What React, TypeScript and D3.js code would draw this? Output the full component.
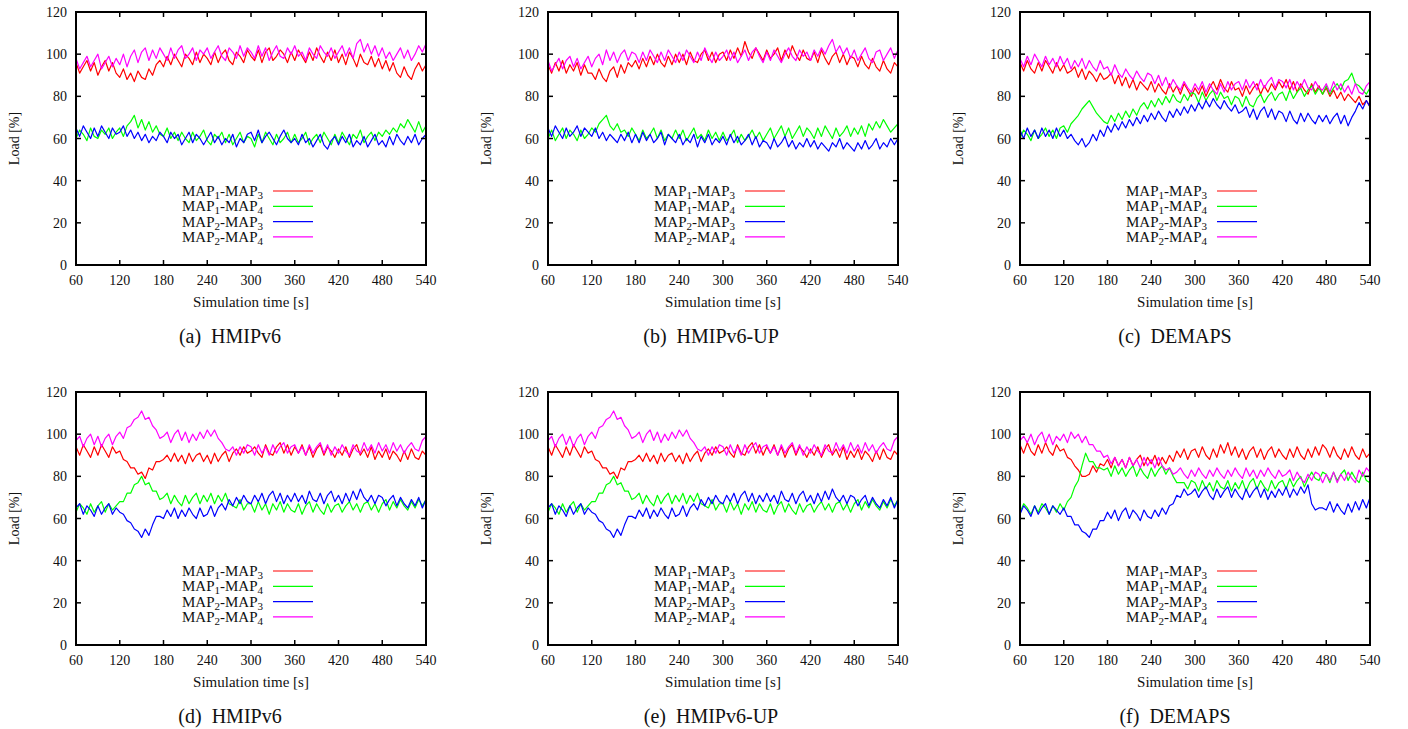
import React from 'react';
import * as d3 from 'd3';

const xTicks = [60, 120, 180, 240, 300, 360, 420, 480, 540];
const yTicks = [0, 20, 40, 60, 80, 100, 120];
const times = d3.range(60, 541, 5);
const seriesColors = ['#ff0000', '#00ff00', '#0000ff', '#ff00ff'];
const legendLabels = [
  ['MAP', '1', '-MAP', '3'],
  ['MAP', '1', '-MAP', '4'],
  ['MAP', '2', '-MAP', '3'],
  ['MAP', '2', '-MAP', '4'],
];
const captions = ['(a)\u2002HMIPv6', '(b)\u2002HMIPv6-UP', '(c)\u2002DEMAPS', '(d)\u2002HMIPv6', '(e)\u2002HMIPv6-UP', '(f)\u2002DEMAPS'];

// Panel (a)
const aRed = [96, 91, 94, 97, 92, 96, 90, 94, 97, 92, 96, 91,
  89, 93, 88, 91, 87, 92, 89, 88, 93, 90, 95, 97,
  94, 99, 95, 100, 97, 94, 100, 98, 95, 101, 96, 100,
  98, 95, 101, 96, 100, 102, 97, 95, 101, 99, 96, 102,
  99, 97, 102, 96, 101, 103, 97, 99, 102, 100, 96, 101,
  97, 102, 99, 96, 101, 97, 103, 99, 96, 101, 97, 102,
  96, 100, 95, 101, 98, 94, 100, 96, 95, 99, 94, 98,
  93, 97, 92, 96, 91, 89, 94, 90, 88, 93, 96, 92,
  95];
const aMag = [98, 93, 96, 99, 94, 97, 100, 93, 96, 99, 94, 98,
  95, 100, 94, 99, 102, 96, 101, 103, 97, 102, 98, 103,
  100, 97, 103, 98, 102, 104, 98, 100, 103, 97, 102, 100,
  103, 98, 101, 104, 99, 97, 103, 101, 98, 104, 99, 103,
  101, 98, 104, 99, 103, 97, 101, 104, 99, 98, 103, 100,
  104, 99, 101, 97, 103, 100, 98, 104, 101, 99, 103, 98,
  101, 104, 99, 103, 98, 105, 107, 101, 105, 100, 104, 99,
  103, 98, 101, 97, 100, 103, 98, 102, 97, 100, 104, 101,
  105];
const aGrn = [60, 64, 62, 59, 65, 61, 60, 64, 62, 65, 60, 63,
  65, 61, 66, 68, 71, 65, 69, 64, 68, 63, 66, 62,
  61, 65, 60, 63, 59, 63, 60, 58, 63, 59, 61, 64,
  59, 57, 62, 60, 63, 58, 62, 57, 60, 63, 58, 61,
  60, 56, 62, 58, 63, 60, 57, 62, 58, 60, 63, 58,
  62, 58, 60, 63, 57, 60, 62, 58, 63, 60, 57, 62,
  58, 63, 60, 57, 62, 60, 64, 58, 61, 63, 59, 63,
  61, 64, 62, 65, 63, 67, 65, 69, 66, 63, 68, 63,
  66];
const aBlu = [65, 61, 66, 63, 60, 65, 61, 66, 63, 60, 65, 62,
  63, 66, 61, 64, 60, 63, 59, 62, 58, 61, 59, 63,
  61, 58, 63, 60, 62, 57, 60, 63, 58, 62, 60, 57,
  60, 63, 58, 61, 57, 60, 58, 62, 56, 60, 58, 62,
  63, 59, 64, 58, 61, 63, 60, 57, 61, 64, 60, 58,
  60, 57, 62, 58, 60, 56, 59, 62, 57, 55, 59, 61,
  57, 61, 58, 62, 56, 59, 57, 61, 56, 59, 62, 57,
  59, 56, 61, 57, 62, 59, 57, 61, 58, 62, 57, 60,
  62];

// Panel (b)
const bRed = [95, 91, 96, 92, 97, 91, 95, 92, 96, 90, 95, 91,
  91, 88, 93, 89, 87, 92, 94, 89, 95, 91, 96, 94,
  97, 93, 98, 94, 99, 95, 100, 96, 94, 99, 95, 100,
  96, 100, 95, 101, 97, 96, 100, 102, 97, 101, 96, 100,
  101, 97, 102, 98, 103, 99, 106, 101, 98, 103, 100, 97,
  102, 98, 100, 103, 97, 102, 98, 104, 100, 97, 102, 98,
  97, 101, 96, 102, 98, 95, 99, 101, 96, 100, 95, 99,
  98, 94, 99, 95, 93, 98, 94, 92, 97, 93, 91, 96,
  94];
const bMag = [97, 92, 95, 98, 93, 97, 99, 94, 98, 93, 96, 99,
  94, 98, 100, 95, 102, 97, 101, 96, 100, 102, 97, 101,
  100, 96, 101, 97, 102, 99, 96, 101, 97, 102, 99, 96,
  101, 97, 102, 99, 96, 101, 97, 103, 99, 96, 101, 97,
  99, 102, 97, 101, 96, 99, 102, 97, 101, 103, 99, 96,
  101, 97, 102, 99, 96, 100, 103, 99, 97, 102, 99, 101,
  97, 102, 99, 103, 100, 104, 107, 101, 104, 100, 103, 98,
  102, 97, 100, 103, 98, 96, 101, 102, 97, 100, 103, 98,
  102];
const bGrn = [60, 64, 59, 62, 65, 60, 64, 62, 59, 64, 60, 62,
  65, 63, 67, 69, 71, 66, 64, 67, 63, 64, 61, 65,
  62, 59, 64, 60, 62, 65, 60, 64, 59, 62, 60, 64,
  60, 64, 59, 62, 65, 60, 62, 59, 64, 60, 63, 59,
  63, 59, 61, 64, 58, 62, 59, 61, 64, 60, 63, 59,
  62, 65, 60, 63, 66, 61, 65, 60, 63, 66, 61, 65,
  63, 60, 65, 61, 66, 63, 60, 65, 61, 63, 66, 61,
  65, 62, 66, 61, 67, 64, 68, 65, 69, 66, 63, 65,
  67];
const bBlu = [65, 61, 66, 63, 60, 65, 61, 63, 66, 61, 65, 63,
  61, 65, 60, 63, 59, 62, 60, 58, 62, 59, 63, 58,
  62, 58, 63, 59, 62, 58, 60, 63, 57, 62, 60, 58,
  62, 57, 60, 58, 62, 56, 61, 58, 62, 57, 60, 58,
  61, 57, 62, 58, 61, 57, 59, 62, 57, 61, 56, 59,
  58, 55, 60, 56, 58, 61, 56, 59, 55, 58, 56, 60,
  56, 59, 55, 58, 56, 54, 58, 56, 60, 55, 58, 56,
  54, 58, 55, 59, 55, 57, 60, 55, 58, 56, 60, 57,
  60];

// Panel (c)
const cRed = [96, 92, 97, 93, 91, 96, 92, 97, 94, 91, 96, 92,
  95, 91, 92, 94, 89, 93, 88, 92, 90, 87, 91, 88,
  89, 91, 86, 90, 85, 89, 84, 88, 83, 87, 85, 83,
  87, 82, 86, 83, 81, 86, 82, 85, 81, 86, 83, 80,
  84, 81, 85, 80, 84, 87, 83, 88, 84, 82, 87, 83,
  84, 80, 85, 81, 84, 86, 81, 85, 82, 86, 83, 87,
  84, 88, 83, 87, 82, 86, 83, 81, 86, 82, 85, 81,
  84, 80, 83, 79, 82, 78, 81, 79, 77, 80, 76, 78,
  75];
const cMag = [98, 94, 99, 95, 100, 97, 94, 99, 95, 98, 94, 99,
  95, 98, 93, 97, 94, 98, 93, 97, 94, 92, 97, 93,
  94, 90, 95, 91, 89, 93, 90, 88, 92, 89, 87, 91,
  90, 86, 90, 85, 89, 84, 88, 85, 83, 87, 84, 82,
  86, 83, 87, 82, 86, 83, 81, 86, 82, 87, 83, 86,
  87, 83, 88, 84, 87, 83, 88, 84, 87, 89, 84, 88,
  87, 84, 88, 83, 87, 84, 88, 84, 83, 87, 84, 83,
  86, 82, 87, 83, 86, 82, 85, 81, 86, 82, 81, 85,
  87];
const cGrn = [60, 64, 62, 59, 64, 60, 62, 65, 61, 64, 60, 65,
  66, 63, 67, 69, 71, 74, 76, 78, 75, 72, 70, 68,
  67, 71, 68, 72, 69, 73, 70, 74, 71, 75, 77, 74,
  78, 75, 79, 76, 80, 77, 81, 78, 77, 81, 78, 82,
  81, 77, 82, 78, 81, 83, 78, 82, 79, 80, 76, 80,
  79, 75, 80, 76, 75, 79, 81, 77, 80, 82, 78, 81,
  82, 78, 83, 79, 82, 84, 80, 83, 85, 81, 84, 81,
  85, 81, 84, 86, 83, 87, 88, 91, 86, 85, 83, 81,
  84];
const cBlu = [64, 60, 65, 61, 64, 60, 65, 61, 64, 60, 65, 61,
  64, 60, 62, 59, 57, 60, 56, 58, 62, 59, 64, 61,
  66, 63, 67, 64, 68, 65, 69, 66, 70, 67, 71, 68,
  72, 69, 73, 70, 68, 73, 70, 74, 71, 75, 72, 76,
  73, 77, 74, 78, 75, 79, 76, 74, 78, 75, 73, 76,
  72, 73, 75, 70, 74, 69, 73, 75, 70, 74, 69, 73,
  72, 68, 73, 69, 67, 72, 68, 72, 69, 67, 71, 68,
  71, 67, 70, 72, 67, 71, 66, 70, 73, 77, 74, 78,
  75];

// Panels (d) and (e)
const dRed = [94, 90, 95, 92, 89, 94, 90, 95, 92, 89, 94, 91,
  92, 88, 87, 84, 84, 81, 82, 79, 84, 83, 87, 87,
  88, 90, 87, 91, 87, 90, 86, 91, 87, 90, 91, 87,
  90, 86, 91, 87, 90, 92, 87, 91, 93, 90, 94, 91,
  92, 94, 91, 89, 95, 91, 90, 94, 96, 91, 95, 90,
  94, 91, 95, 90, 94, 89, 93, 95, 90, 94, 92, 89,
  93, 90, 94, 89, 93, 95, 90, 93, 89, 94, 88, 92,
  89, 93, 88, 92, 90, 87, 92, 88, 93, 89, 88, 92,
  90];
const dMag = [97, 99, 94, 98, 100, 95, 99, 94, 98, 100, 95, 99,
  101, 98, 103, 104, 107, 108, 111, 107, 108, 104, 102, 98,
  99, 101, 96, 100, 102, 97, 101, 96, 100, 97, 101, 98,
  102, 99, 102, 98, 96, 93, 92, 94, 90, 94, 91, 95,
  94, 90, 95, 91, 94, 90, 95, 91, 94, 96, 91, 94,
  95, 91, 94, 90, 95, 91, 94, 96, 91, 95, 90, 94,
  91, 95, 92, 90, 95, 92, 91, 96, 92, 95, 91, 96,
  92, 95, 91, 96, 92, 95, 91, 94, 96, 93, 92, 97,
  99];
const dGrn = [63, 67, 65, 62, 67, 63, 66, 68, 63, 67, 64, 66,
  68, 68, 72, 72, 76, 77, 80, 76, 77, 73, 73, 69,
  70, 72, 67, 71, 68, 66, 71, 67, 70, 72, 67, 71,
  68, 72, 67, 71, 68, 72, 67, 66, 65, 69, 64, 67,
  67, 63, 68, 64, 67, 62, 67, 64, 68, 63, 67, 64,
  63, 67, 62, 66, 68, 63, 67, 64, 62, 67, 63, 66,
  67, 63, 66, 68, 64, 67, 63, 67, 68, 64, 67, 63,
  67, 69, 64, 68, 65, 69, 66, 64, 68, 65, 69, 66,
  69];
const dBlu = [65, 67, 62, 66, 64, 61, 66, 62, 65, 67, 62, 65,
  63, 62, 59, 58, 55, 54, 51, 55, 52, 57, 61, 61,
  60, 64, 61, 65, 60, 64, 61, 65, 62, 60, 65, 61,
  62, 66, 61, 65, 67, 64, 69, 66, 70, 67, 71, 68,
  67, 71, 68, 72, 67, 71, 73, 68, 72, 67, 71, 68,
  72, 68, 71, 67, 73, 69, 68, 72, 67, 71, 73, 68,
  71, 67, 72, 68, 73, 69, 74, 70, 68, 71, 67, 71,
  70, 66, 69, 71, 66, 70, 67, 65, 69, 66, 70, 65,
  69];

// Panel (f)
const fRed = [95, 91, 96, 92, 90, 95, 91, 96, 92, 90, 95, 92,
  93, 89, 88, 85, 83, 80, 80, 81, 85, 82, 86, 85,
  88, 84, 89, 85, 88, 84, 89, 85, 88, 90, 85, 89,
  86, 90, 85, 89, 86, 90, 87, 92, 89, 93, 88, 92,
  93, 89, 94, 90, 88, 93, 89, 95, 91, 96, 90, 94,
  89, 93, 88, 92, 94, 89, 93, 88, 92, 94, 89, 93,
  90, 88, 93, 89, 94, 90, 88, 93, 89, 94, 90, 95,
  93, 89, 94, 90, 88, 93, 89, 94, 90, 88, 93, 89,
  91];
const fMag = [97, 99, 96, 100, 95, 99, 101, 96, 100, 95, 99, 97,
  100, 96, 101, 98, 100, 96, 99, 95, 95, 92, 92, 89,
  90, 86, 89, 85, 88, 84, 89, 85, 88, 84, 89, 85,
  88, 84, 89, 85, 83, 84, 81, 82, 84, 81, 79, 83,
  80, 84, 81, 79, 83, 80, 84, 81, 79, 83, 80, 84,
  81, 79, 84, 80, 83, 79, 83, 80, 84, 81, 79, 83,
  80, 81, 83, 78, 82, 79, 77, 81, 78, 82, 81, 77,
  81, 78, 82, 77, 81, 78, 82, 79, 77, 83, 80, 84,
  82];
const fGrn = [63, 67, 65, 62, 66, 63, 67, 65, 62, 66, 63, 67,
  64, 68, 70, 75, 78, 85, 91, 87, 87, 84, 84, 83,
  84, 80, 85, 81, 84, 80, 83, 85, 80, 84, 81, 79,
  84, 80, 83, 85, 81, 84, 80, 77, 77, 77, 74, 78,
  77, 73, 78, 74, 77, 73, 78, 75, 74, 78, 73, 77,
  74, 78, 73, 77, 79, 74, 78, 75, 73, 78, 74, 77,
  78, 74, 79, 75, 78, 80, 75, 79, 82, 79, 78, 82,
  81, 77, 82, 78, 81, 83, 78, 82, 79, 77, 82, 78,
  77];
const fBlu = [62, 66, 64, 61, 66, 62, 65, 67, 62, 66, 64, 62,
  65, 61, 61, 57, 57, 54, 53, 51, 55, 55, 59, 59,
  63, 60, 64, 59, 63, 65, 60, 64, 62, 59, 64, 61,
  60, 64, 61, 65, 62, 66, 67, 71, 70, 74, 71, 72,
  74, 70, 73, 75, 71, 69, 74, 70, 73, 75, 70, 74,
  71, 69, 74, 70, 73, 75, 70, 74, 69, 73, 70, 74,
  71, 75, 70, 74, 71, 75, 72, 76, 67, 64, 65, 65,
  64, 68, 63, 67, 64, 62, 67, 63, 68, 64, 69, 65,
  70];

const panelSeries = [
  [aRed, aGrn, aBlu, aMag],
  [bRed, bGrn, bBlu, bMag],
  [cRed, cGrn, cBlu, cMag],
  [dRed, dGrn, dBlu, dMag],
  [dRed, dGrn, dBlu, dMag],
  [fRed, fGrn, fBlu, fMag],
];

const PLOT_W = 350;
const PLOT_H = 253;
const colX = [76, 548, 1020];
const rowY = [12, 392];
const captionX = [230, 711, 1175];
const FONT = "'Liberation Serif', 'Times New Roman', serif";

function Panel({ idx }: { idx: number }) {
  const col = idx % 3;
  const row = Math.floor(idx / 3);
  const x0 = colX[col];
  const y0 = rowY[row];
  const xs = d3.scaleLinear().domain([60, 540]).range([x0, x0 + PLOT_W]);
  const ys = d3.scaleLinear().domain([0, 120]).range([y0 + PLOT_H, y0]);
  const line = d3
    .line<number>()
    .x((_, i) => xs(times[i]))
    .y((d) => ys(d));
  const series = panelSeries[idx];
  const lx = x0 + 187;
  return (
    <g fontFamily={FONT} fill="#111">
      {series.map((s, i) => (
        <path key={i} d={line(s) || ''} fill="none" stroke={seriesColors[i]} strokeWidth={1.2} strokeLinejoin="round" />
      ))}
      {legendLabels.map((lab, i) => {
        const ly = y0 + 179 + i * 15.3;
        return (
          <g key={i}>
            <text x={lx} y={ly + 5} textAnchor="end" fontSize={15}>
              {lab[0]}
              <tspan fontSize={11} dy={3}>{lab[1]}</tspan>
              <tspan fontSize={15} dy={-3}>{lab[2]}</tspan>
              <tspan fontSize={11} dy={3}>{lab[3]}</tspan>
            </text>
            <line x1={lx + 10} x2={lx + 50} y1={ly} y2={ly} stroke={seriesColors[i]} strokeWidth={1.2} />
          </g>
        );
      })}
      {yTicks.map((t) => (
        <g key={'y' + t}>
          <line x1={x0} x2={x0 + 5} y1={ys(t)} y2={ys(t)} stroke="#000" strokeWidth={1.5} />
          <line x1={x0 + PLOT_W} x2={x0 + PLOT_W - 5} y1={ys(t)} y2={ys(t)} stroke="#000" strokeWidth={1.5} />
          <text x={x0 - 9} y={ys(t) + 5} textAnchor="end" fontSize={14}>{t}</text>
        </g>
      ))}
      {xTicks.map((t) => (
        <g key={'x' + t}>
          <line x1={xs(t)} x2={xs(t)} y1={y0 + PLOT_H} y2={y0 + PLOT_H - 5} stroke="#000" strokeWidth={1.5} />
          <line x1={xs(t)} x2={xs(t)} y1={y0} y2={y0 + 5} stroke="#000" strokeWidth={1.5} />
          <text x={xs(t)} y={y0 + PLOT_H + 20} textAnchor="middle" fontSize={14}>{t}</text>
        </g>
      ))}
      <rect x={x0} y={y0} width={PLOT_W} height={PLOT_H} fill="none" stroke="#000" strokeWidth={2} />
      <text x={x0 + PLOT_W / 2} y={y0 + PLOT_H + 42} textAnchor="middle" fontSize={15}>Simulation time [s]</text>
      <text transform={`translate(${x0 - 57},${y0 + PLOT_H / 2}) rotate(-90)`} textAnchor="middle" fontSize={14}>Load [%]</text>
      <text x={captionX[col]} y={y0 + 331} textAnchor="middle" fontSize={20}>{captions[idx]}</text>
    </g>
  );
}

export default function App() {
  return (
    <svg width={1408} height={729} style={{ position: 'absolute', left: 0, top: 0, background: '#fff' }}>
      <rect width={1408} height={729} fill="#fff" />
      {[0, 1, 2, 3, 4, 5].map((i) => (
        <Panel key={i} idx={i} />
      ))}
    </svg>
  );
}
